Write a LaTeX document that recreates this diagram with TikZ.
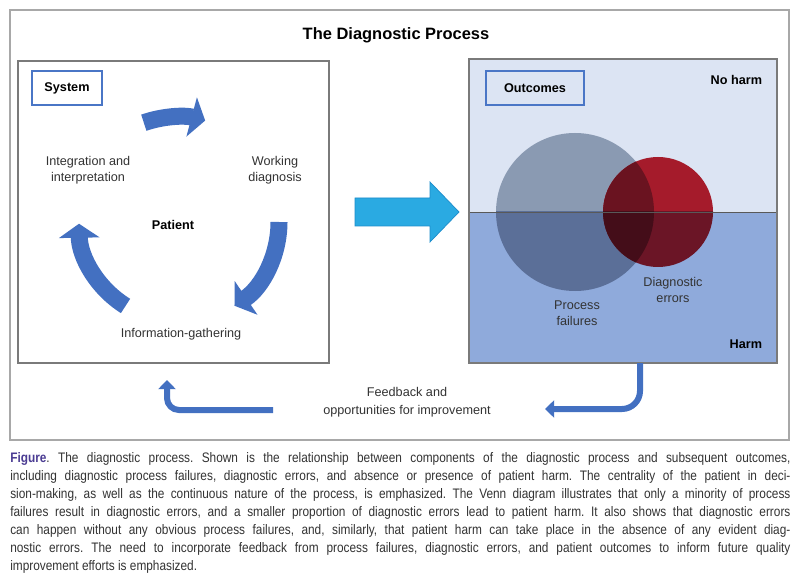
\documentclass[tikz,border=0pt]{standalone}
\usepackage{fontspec}
\setmainfont{Liberation Sans}
\newfontfamily\capfont[FakeStretch=0.86]{Liberation Sans}
\usetikzlibrary{arrows.meta}

\definecolor{cycblue}{HTML}{4370C1}
\definecolor{tagblue}{HTML}{4A76C6}
\definecolor{cyanfill}{HTML}{2AAAE2}
\definecolor{cyanedge}{HTML}{1C8CCB}
\definecolor{framegray}{HTML}{A8A8A8}
\definecolor{boxgray}{HTML}{7A7A7A}
\definecolor{txtgray}{HTML}{333333}
\definecolor{noharm}{HTML}{DCE4F3}
\definecolor{harm}{HTML}{8FAADB}
\definecolor{grayup}{HTML}{8A9AB2}
\definecolor{graydown}{HTML}{5B6F98}
\definecolor{redup}{HTML}{A51B2B}
\definecolor{reddown}{HTML}{6B1526}
\definecolor{bothup}{HTML}{6A1320}
\definecolor{bothdown}{HTML}{440D19}
\definecolor{figpurple}{HTML}{4B3C93}

\begin{document}
\begin{tikzpicture}[x=0.025cm, y=0.025cm]
    \tikzstyle{txt}=[font=\fontsize{9}{11.5}\selectfont, text=txtgray, align=center]
    \tikzstyle{boldtxt}=[font=\fontsize{9}{11.5}\selectfont\bfseries]
    \tikzstyle{tagbox}=[draw=tagblue, line width=0.8pt, minimum width=1.75cm, minimum height=0.85cm, boldtxt]
    \tikzstyle{cyclearrow}=[draw=cycblue, line width=0.425cm, -{Triangle[width=1cm, length=0.35cm]}]
    \tikzstyle{feedback}=[draw=cycblue, line width=0.15cm, rounded corners=0.3cm, -{Triangle[width=0.43cm, length=0.23cm]}]

    \useasboundingbox (0,0) rectangle (800,573);
    \fill[white] (0,0) rectangle (800,573);
    \draw[framegray, line width=0.8pt] (10,133) rectangle (789,563);
    \node[font=\fontsize{11.7}{14}\selectfont\bfseries] (title) at (396,538) {The Diagnostic Process};

    % system side
    \draw[boxgray, line width=1.1pt] (18,210) rectangle (329,512);
    \node[tagbox] (sys) at (67,485) {System};

    \coordinate (c) at (178,351);
    \draw[cyclearrow] ([shift={(109:105)}]c) arc[start angle=109, end angle=75, radius=105];
    \draw[cyclearrow] ([shift={(0:101)}]c) arc[start angle=0, end angle=-56, radius=101];
    \draw[cyclearrow] ([shift={(238:99)}]c) arc[start angle=238, end angle=181, radius=99];

    \node[txt] (integ) at (88,403) {Integration and\\interpretation};
    \node[txt] (work) at (275,403) {Working\\diagnosis};
    \node[boldtxt] (pat) at (173,348) {Patient};
    \node[txt] (info) at (181,239) {Information-gathering};

    \filldraw[fill=cyanfill, draw=cyanedge, line width=0.5pt] (355,347) -- (430,347) -- (430,331) -- (459,361)
        -- (430,391) -- (430,375) -- (355,375) -- cycle;

    % outcomes side
    \fill[noharm] (469,361) rectangle (777,514);
    \fill[harm] (469,210) rectangle (777,361);
    \coordinate (pf) at (575,361);
    \coordinate (de) at (658,361);
    \begin{scope}
      \clip (469,361) rectangle (777,514);
      \fill[grayup] (pf) circle (79);
      \fill[redup] (de) circle (55);
      \clip (pf) circle (79);
      \fill[bothup] (de) circle (55);
    \end{scope}
    \begin{scope}
      \clip (469,210) rectangle (777,361);
      \fill[graydown] (pf) circle (79);
      \fill[reddown] (de) circle (55);
      \clip (pf) circle (79);
      \fill[bothdown] (de) circle (55);
    \end{scope}
    \draw[black!65, line width=0.6pt] (469,361) -- (777,361);
    \draw[boxgray, line width=1pt] (469,210) rectangle (777,514);

    \node[tagbox, fill=noharm, minimum width=2.45cm] (out) at (535,485) {Outcomes};
    \node[boldtxt, anchor=east] (nh) at (767,493) {No harm};
    \node[boldtxt, anchor=east] (h) at (767,229) {Harm};
    \node[txt] (pfl) at (577,260) {Process\\failures};
    \node[txt] (del) at (673,283) {Diagnostic\\errors};

    % feedback
    \node[txt, font=\fontsize{9}{12.8}\selectfont] (fb) at (407,171) {Feedback and\\opportunities for improvement};
    \coordinate (fbl1) at (273,163);
    \coordinate (fbl2) at (167,163);
    \coordinate (fbl3) at (167,193);
    \draw[feedback] (fbl1) -- (fbl2) -- (fbl3);
    \coordinate (fbr1) at (640,210);
    \coordinate (fbr2) at (640,164);
    \coordinate (fbr3) at (545,164);
    \draw[feedback, rounded corners=0.45cm] (fbr1) -- (fbr2) -- (fbr3);

    % caption
    \node[anchor=base west, inner sep=0pt] (cap) at (10,120) {\parbox[t]{19.5cm}{\capfont\fontsize{9.8}{12.8}\selectfont
      \color{txtgray}\frenchspacing\tolerance=10000 \hyphenpenalty=10000
      {\bfseries\color{figpurple}Figure}. The diagnostic process. Shown is the relationship between components of the diagnostic process and subsequent outcomes,\linebreak
      including diagnostic process failures, diagnostic errors, and absence or presence of patient harm. The centrality of the patient in deci-\linebreak
      sion-making, as well as the continuous nature of the process, is emphasized. The Venn diagram illustrates that only a minority of process\linebreak
      failures result in diagnostic errors, and a smaller proportion of diagnostic errors lead to patient harm. It also shows that diagnostic errors\linebreak
      can happen without any obvious process failures, and, similarly, that patient harm can take place in the absence of any evident diag-\linebreak
      nostic errors. The need to incorporate feedback from process failures, diagnostic errors, and patient outcomes to inform future quality\linebreak
      improvement efforts is emphasized.}};
\end{tikzpicture}
\end{document}
